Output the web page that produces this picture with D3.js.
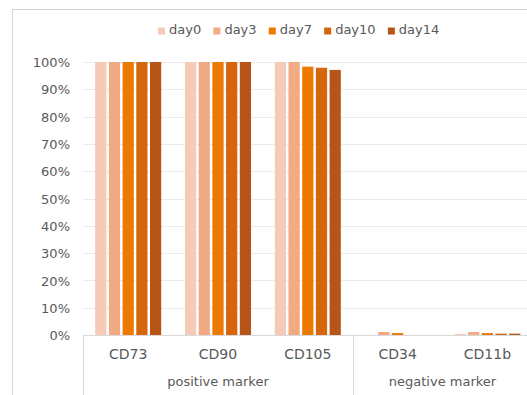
<!DOCTYPE html>
<html><head><meta charset="utf-8">
<script src="https://cdn.jsdelivr.net/npm/d3@7"></script>
<style>body{margin:0;background:#fff}svg{display:block}text{font-family:"DejaVu Sans",sans-serif;fill:#595959}</style>
</head><body>
<script>
const categories = ["CD73","CD90","CD105","CD34","CD11b"];
const groups = [{name:"positive marker", members:["CD73","CD90","CD105"]},{name:"negative marker", members:["CD34","CD11b"]}];
const seriesNames = ["day0","day3","day7","day10","day14"];
const colors = ["#F5CBB7","#F1AA84","#EC7A00","#D5660E","#B65517"];
const values = {
  day0:  [1.000, 1.000, 1.000, 0.000, 0.004],
  day3:  [1.000, 1.000, 1.000, 0.011, 0.011],
  day7:  [1.000, 1.000, 0.983, 0.007, 0.007],
  day10: [1.000, 1.000, 0.979, 0.000, 0.005],
  day14: [1.000, 1.000, 0.971, 0.000, 0.005]
};
const yTicks = [0,0.1,0.2,0.3,0.4,0.5,0.6,0.7,0.8,0.9,1.0];

const W=527,H=395;
const svg=d3.select("body").append("svg").attr("width",W).attr("height",H);
// outer chart border
svg.append("rect").attr("x",12.5).attr("y",9.5).attr("width",W+20).attr("height",H+20)
  .attr("fill","none").attr("stroke","#D4D4D4");

const x=d3.scaleBand().domain(categories).range([83.3,532.3]).paddingInner(0).paddingOuter(0);
const xi=d3.scaleBand().domain(seriesNames).range([0,x.bandwidth()]).paddingInner(0.18).paddingOuter(0.867);
const y=d3.scaleLinear().domain([0,1]).range([335,62]);

// gridlines
svg.append("g").selectAll("line").data(yTicks.filter(d=>d>0)).join("line")
  .attr("x1",83).attr("x2",W).attr("y1",d=>Math.round(y(d))+0.5).attr("y2",d=>Math.round(y(d))+0.5)
  .attr("stroke","#EBEBEB").attr("stroke-width",1);

// y axis labels
const yAxis=d3.axisLeft(y).tickValues(yTicks).tickFormat(d3.format(".0%")).tickSize(0).tickPadding(0);
const ya=svg.append("g").attr("transform","translate(70,0)").call(yAxis);
ya.select(".domain").remove();
ya.selectAll("text").attr("font-size",13).attr("fill","#595959").attr("font-family","DejaVu Sans").attr("dy","0.36em");

// bars
const bg=svg.append("g");
seriesNames.forEach((s,si)=>{
  bg.append("g").selectAll("rect").data(categories.map((c,i)=>({c,v:values[s][i]}))).join("rect")
    .attr("x",d=>x(d.c)+xi(s)).attr("width",xi.bandwidth())
    .attr("y",d=>y(d.v)).attr("height",d=>y(0)-y(d.v))
    .attr("fill",colors[si]);
});

// category axis line
svg.append("line").attr("x1",83).attr("x2",W).attr("y1",335.5).attr("y2",335.5).attr("stroke","#D9D9D9");
// category labels
const xa=d3.axisBottom(x).tickSize(0).tickPadding(0);
const xg=svg.append("g").attr("transform","translate(0,359)").call(xa);
xg.select(".domain").remove();
xg.selectAll("text").attr("font-size",14).attr("fill","#595959").attr("font-family","DejaVu Sans").attr("dy",0);
// group boundaries and labels
const bounds=[x(groups[0].members[0]), x(groups[1].members[0])];
svg.append("g").selectAll("line").data(bounds).join("line")
  .attr("x1",d=>Math.round(d)+0.5).attr("x2",d=>Math.round(d)+0.5).attr("y1",335).attr("y2",H)
  .attr("stroke","#D9D9D9");
svg.append("g").selectAll("text").data(groups).join("text")
  .attr("x",g=>{const a=x(g.members[0]),b=x(g.members[g.members.length-1])+x.bandwidth();return (a+b)/2;})
  .attr("y",386).attr("text-anchor","middle").attr("font-size",13).text(g=>g.name);

// legend
const lg=svg.append("g");
let lx=158;
seriesNames.forEach((s,i)=>{
  lg.append("rect").attr("x",lx).attr("y",27.5).attr("width",7).attr("height",7).attr("fill",colors[i]);
  const t=lg.append("text").attr("x",lx+11).attr("y",34.3).attr("font-size",13).text(s);
  lx+=11+t.node().getComputedTextLength()+12.2;
});
</script>
</body></html>
